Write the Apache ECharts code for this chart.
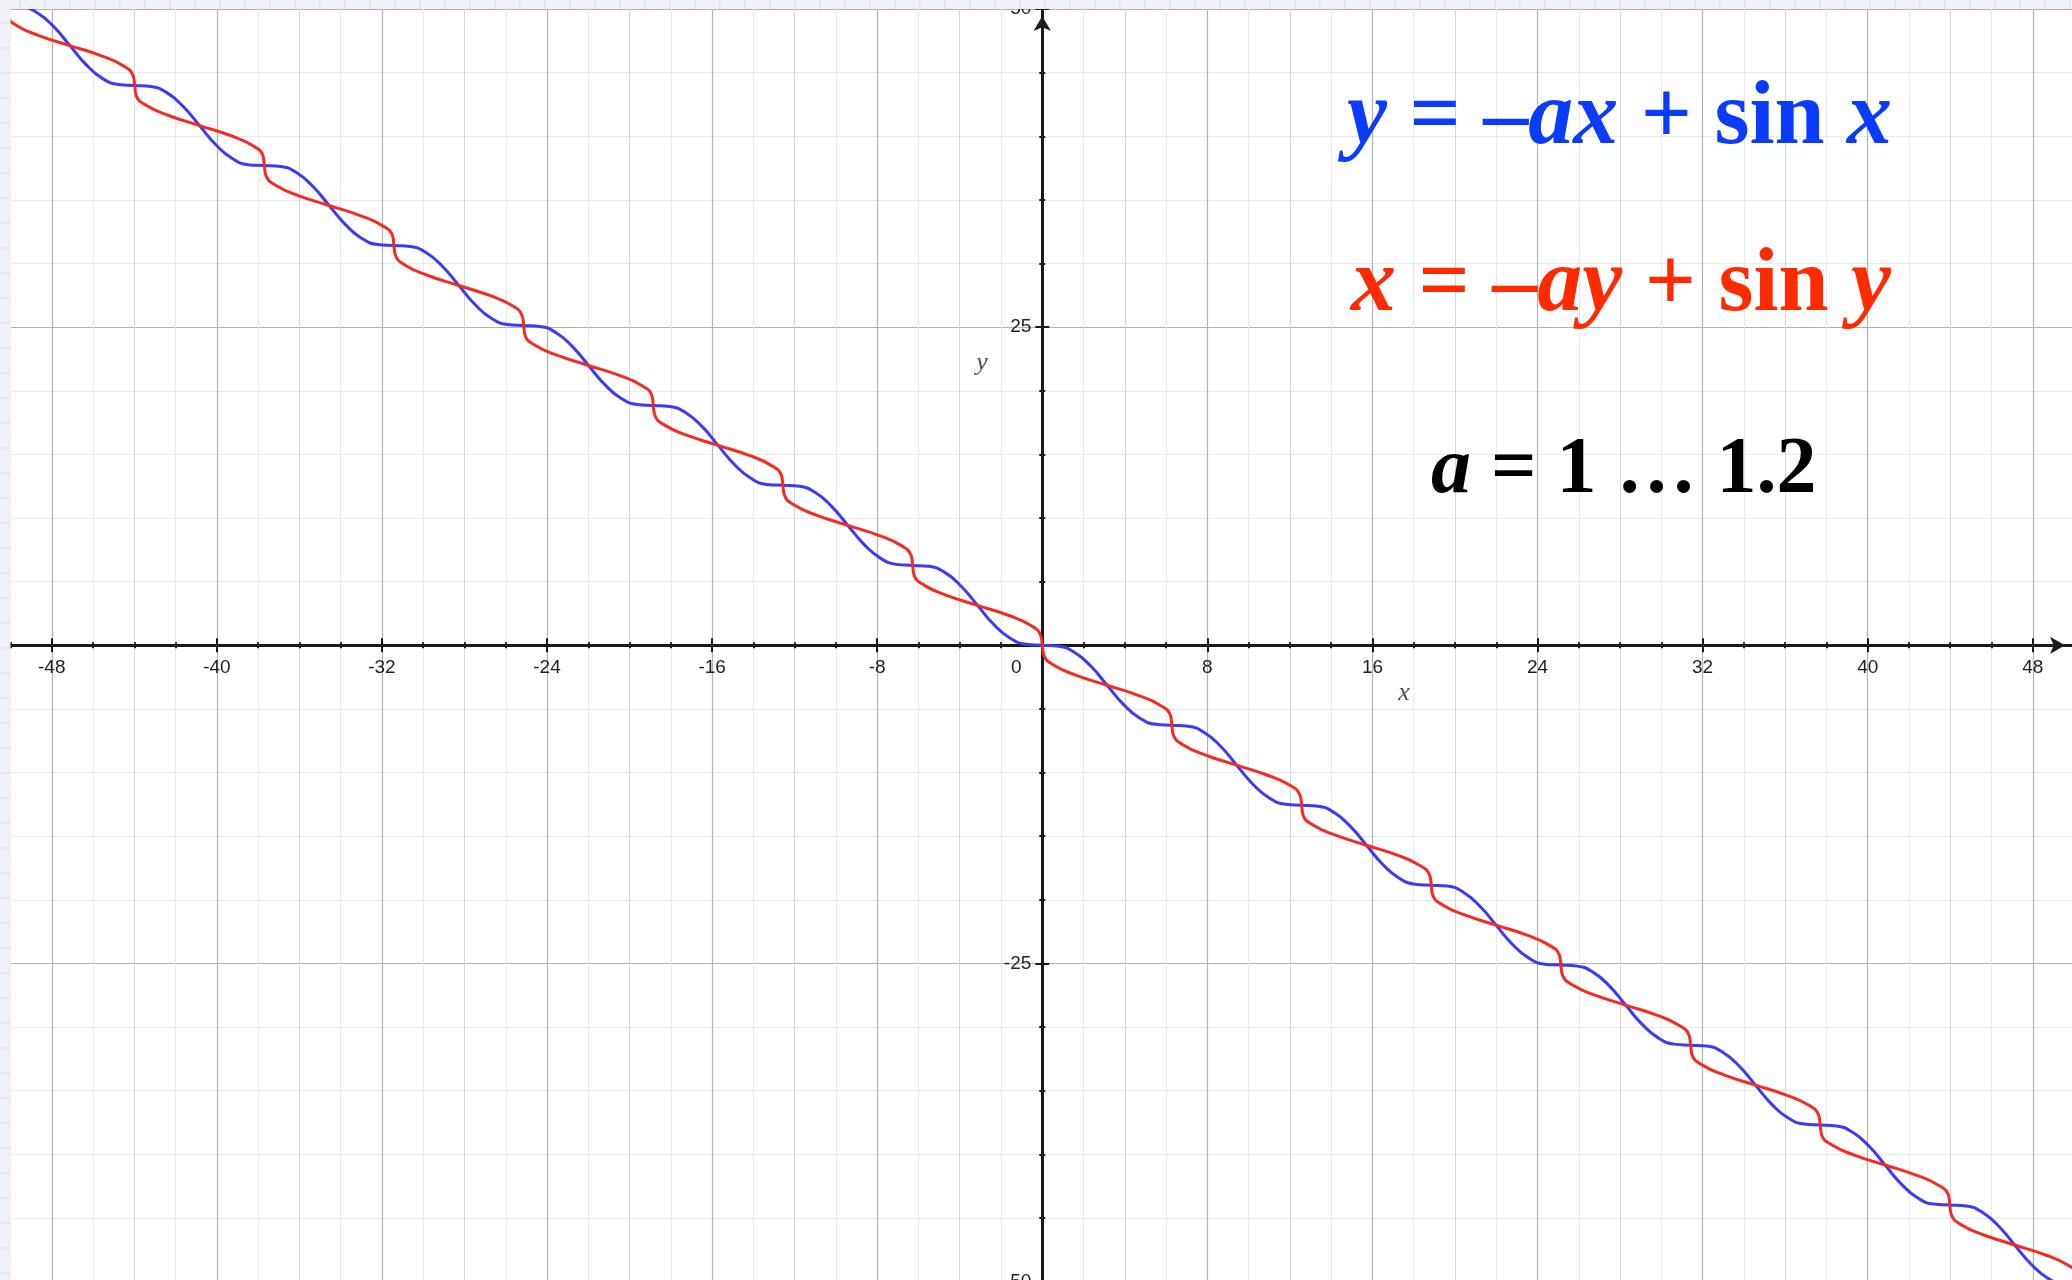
<!DOCTYPE html>
<html>
<head>
<meta charset="utf-8">
<title>y = -ax + sin x</title>
<script src="https://cdn.jsdelivr.net/npm/echarts@6/dist/echarts.min.js"></script>
<style>
  html, body { margin: 0; padding: 0; background: #ffffff; }
  #chart { width: 2072px; height: 1280px; }
</style>
</head>
<body>
<div id="chart"></div>
<script>
// Blue curve: y = -ax + sin x (a = 1), sampled every quarter of pi
const blueX = [-50.27,-49.48,-48.69,-47.91,-47.12,-46.34,-45.55,-44.77,-43.98,-43.20,-42.41,-41.63,-40.84,-40.06,-39.27,-38.48,-37.70,-36.91,-36.13,-35.34,-34.56,-33.77,-32.99,-32.20,-31.42,-30.63,-29.85,-29.06,-28.27,-27.49,-26.70,-25.92,-25.13,-24.35,-23.56,-22.78,-21.99,-21.21,-20.42,-19.63,-18.85,-18.06,-17.28,-16.49,-15.71,-14.92,-14.14,-13.35,-12.57,-11.78,-11.00,-10.21,-9.42,-8.64,-7.85,-7.07,-6.28,-5.50,-4.71,-3.93,-3.14,-2.36,-1.57,-0.79,0,0.79,1.57,2.36,3.14,3.93,4.71,5.50,6.28,7.07,7.85,8.64,9.42,10.21,11.00,11.78,12.57,13.35,14.14,14.92,15.71,16.49,17.28,18.06,18.85,19.63,20.42,21.21,21.99,22.78,23.56,24.35,25.13,25.92,26.70,27.49,28.27,29.06,29.85,30.63,31.42,32.20,32.99,33.77,34.56,35.34,36.13,36.91,37.70,38.48,39.27,40.06,40.84,41.63,42.41,43.20,43.98,44.77,45.55,46.34,47.12,47.91,48.69,49.48,50.27];
const blueY = [50.27,50.19,49.69,48.62,47.12,45.63,44.55,44.06,43.98,43.91,43.41,42.34,40.84,39.35,38.27,37.77,37.70,37.62,37.13,36.05,34.56,33.06,31.99,31.49,31.42,31.34,30.85,29.77,28.27,26.78,25.70,25.21,25.13,25.06,24.56,23.49,21.99,20.50,19.42,18.92,18.85,18.77,18.28,17.20,15.71,14.21,13.14,12.64,12.57,12.49,12.00,10.92,9.42,7.93,6.85,6.36,6.28,6.21,5.71,4.64,3.14,1.65,0.57,0.08,0,-0.08,-0.57,-1.65,-3.14,-4.64,-5.71,-6.21,-6.28,-6.36,-6.85,-7.93,-9.42,-10.92,-12.00,-12.49,-12.57,-12.64,-13.14,-14.21,-15.71,-17.20,-18.28,-18.77,-18.85,-18.92,-19.42,-20.50,-21.99,-23.49,-24.56,-25.06,-25.13,-25.21,-25.70,-26.78,-28.27,-29.77,-30.85,-31.34,-31.42,-31.49,-31.99,-33.06,-34.56,-36.05,-37.13,-37.62,-37.70,-37.77,-38.27,-39.35,-40.84,-42.34,-43.41,-43.91,-43.98,-44.06,-44.55,-45.63,-47.12,-48.62,-49.69,-50.19,-50.27];

// Red curve: x = -ay + sin y (a = 1), sampled every quarter of pi in y
const redX = [50.27,50.19,49.69,48.62,47.12,45.63,44.55,44.06,43.98,43.91,43.41,42.34,40.84,39.35,38.27,37.77,37.70,37.62,37.13,36.05,34.56,33.06,31.99,31.49,31.42,31.34,30.85,29.77,28.27,26.78,25.70,25.21,25.13,25.06,24.56,23.49,21.99,20.50,19.42,18.92,18.85,18.77,18.28,17.20,15.71,14.21,13.14,12.64,12.57,12.49,12.00,10.92,9.42,7.93,6.85,6.36,6.28,6.21,5.71,4.64,3.14,1.65,0.57,0.08,0,-0.08,-0.57,-1.65,-3.14,-4.64,-5.71,-6.21,-6.28,-6.36,-6.85,-7.93,-9.42,-10.92,-12.00,-12.49,-12.57,-12.64,-13.14,-14.21,-15.71,-17.20,-18.28,-18.77,-18.85,-18.92,-19.42,-20.50,-21.99,-23.49,-24.56,-25.06,-25.13,-25.21,-25.70,-26.78,-28.27,-29.77,-30.85,-31.34,-31.42,-31.49,-31.99,-33.06,-34.56,-36.05,-37.13,-37.62,-37.70,-37.77,-38.27,-39.35,-40.84,-42.34,-43.41,-43.91,-43.98,-44.06,-44.55,-45.63,-47.12,-48.62,-49.69,-50.19,-50.27];
const redY = [-50.27,-49.48,-48.69,-47.91,-47.12,-46.34,-45.55,-44.77,-43.98,-43.20,-42.41,-41.63,-40.84,-40.06,-39.27,-38.48,-37.70,-36.91,-36.13,-35.34,-34.56,-33.77,-32.99,-32.20,-31.42,-30.63,-29.85,-29.06,-28.27,-27.49,-26.70,-25.92,-25.13,-24.35,-23.56,-22.78,-21.99,-21.21,-20.42,-19.63,-18.85,-18.06,-17.28,-16.49,-15.71,-14.92,-14.14,-13.35,-12.57,-11.78,-11.00,-10.21,-9.42,-8.64,-7.85,-7.07,-6.28,-5.50,-4.71,-3.93,-3.14,-2.36,-1.57,-0.79,0,0.79,1.57,2.36,3.14,3.93,4.71,5.50,6.28,7.07,7.85,8.64,9.42,10.21,11.00,11.78,12.57,13.35,14.14,14.92,15.71,16.49,17.28,18.06,18.85,19.63,20.42,21.21,21.99,22.78,23.56,24.35,25.13,25.92,26.70,27.49,28.27,29.06,29.85,30.63,31.42,32.20,32.99,33.77,34.56,35.34,36.13,36.91,37.70,38.48,39.27,40.06,40.84,41.63,42.41,43.20,43.98,44.77,45.55,46.34,47.12,47.91,48.69,49.48,50.27];

// Axis ticks, grid lines and labels
const xMinorTicks = [-50,-48,-46,-44,-42,-40,-38,-36,-34,-32,-30,-28,-26,-24,-22,-20,-18,-16,-14,-12,-10,-8,-6,-4,-2,0,2,4,6,8,10,12,14,16,18,20,22,24,26,28,30,32,34,36,38,40,42,44,46,48];
const xMidLines = [-48,-44,-40,-36,-32,-28,-24,-20,-16,-12,-8,-4,0,4,8,12,16,20,24,28,32,36,40,44,48];
const xMajorTicks = [-48,-40,-32,-24,-16,-8,0,8,16,24,32,40,48];
const yMinorTicks = [-50,-45,-40,-35,-30,-25,-20,-15,-10,-5,0,5,10,15,20,25,30,35,40,45,50];
const yMajorTicks = [-50,-25,0,25,50];
const yLabelValues = [-50,-25,25,50];

const X_MIN = -50, X_MAX = 49.9, Y_MIN = -50, Y_MAX = 50;
const GRID_LEFT = 10.5, GRID_TOP = 9, GRID_W = 2061.5, GRID_H = 1272.6;
const AXIS_COLOR = '#1a1a1a';
const LABEL_COLOR = '#1e1e1e';
const LABEL_FONT = 'Liberation Sans';
const LABEL_SIZE = 19;
const SERIF = 'Liberation Serif';

// distance from the grid's bottom / left edge to the zero lines, used to place the label axes
const X_LABEL_OFFSET = -GRID_H * (0 - Y_MIN) / (Y_MAX - Y_MIN);
const Y_LABEL_OFFSET = -GRID_W * (0 - X_MIN) / (X_MAX - X_MIN);

const pair = (xs, ys) => xs.map((x, i) => [x, ys[i]]);

function xAxisLayer(position, opts) {
  return Object.assign({
    type: 'value', min: X_MIN, max: X_MAX, position: position,
    axisLine: { show: false, onZero: true, onZeroAxisIndex: 0 },
    axisTick: { show: false },
    axisLabel: { show: false },
    splitLine: { show: false }
  }, opts);
}
function yAxisLayer(position, opts) {
  return Object.assign({
    type: 'value', min: Y_MIN, max: Y_MAX, position: position,
    axisLine: { show: false, onZero: true, onZeroAxisIndex: 0 },
    axisTick: { show: false },
    axisLabel: { show: false },
    splitLine: { show: false }
  }, opts);
}

const xAxes = [
  // main axis: line with arrow, minor ticks (downwards), light grid every 2
  xAxisLayer('bottom', {
    axisLine: { show: true, onZero: true, onZeroAxisIndex: 0,
      symbol: ['none', 'arrow'], symbolSize: [13, 15], symbolOffset: [0, -7],
      lineStyle: { color: AXIS_COLOR, width: 3 } },
    axisTick: { show: true, customValues: xMinorTicks, length: 3, lineStyle: { color: AXIS_COLOR, width: 2 } },
    splitLine: { show: true, lineStyle: { color: '#eaeaea', width: 1 } }
  }),
  // minor ticks upwards
  xAxisLayer('top', {
    axisTick: { show: true, customValues: xMinorTicks, length: 3, lineStyle: { color: AXIS_COLOR, width: 2 } }
  }),
  // grid lines every 4
  xAxisLayer('bottom', {
    axisTick: { show: false, customValues: xMidLines },
    splitLine: { show: true, lineStyle: { color: '#d6d6d6', width: 1 } }
  }),
  // major ticks downwards + grid lines every 8
  xAxisLayer('bottom', {
    axisTick: { show: true, customValues: xMajorTicks, length: 7, lineStyle: { color: AXIS_COLOR, width: 2 } },
    splitLine: { show: true, lineStyle: { color: '#b2b2b2', width: 1.2 } }
  }),
  // major ticks upwards
  xAxisLayer('top', {
    axisTick: { show: true, customValues: xMajorTicks, length: 7, lineStyle: { color: AXIS_COLOR, width: 2 } }
  }),
  // tick labels, placed on the zero line
  xAxisLayer('bottom', {
    axisLine: { show: false, onZero: false },
    offset: X_LABEL_OFFSET,
    axisTick: { show: false, customValues: xMajorTicks },
    axisLabel: { show: true, customValues: xMajorTicks, margin: 13,
      fontFamily: LABEL_FONT, fontSize: LABEL_SIZE, color: LABEL_COLOR,
      formatter: v => v === 0 ? '{z|0}' : String(v),
      rich: { z: { fontFamily: LABEL_FONT, fontSize: LABEL_SIZE, color: LABEL_COLOR, padding: [0, 52, 0, 0] } } }
  })
];

const yAxes = [
  yAxisLayer('left', {
    axisLine: { show: true, onZero: true, onZeroAxisIndex: 0,
      symbol: ['none', 'arrow'], symbolSize: [13, 15], symbolOffset: [0, -7],
      lineStyle: { color: AXIS_COLOR, width: 3 } },
    axisTick: { show: true, customValues: yMinorTicks, length: 3, lineStyle: { color: AXIS_COLOR, width: 2 } },
    splitLine: { show: true, lineStyle: { color: '#eaeaea', width: 1 } }
  }),
  yAxisLayer('right', {
    axisTick: { show: true, customValues: yMinorTicks, length: 3, lineStyle: { color: AXIS_COLOR, width: 2 } }
  }),
  yAxisLayer('left', {
    axisTick: { show: true, customValues: yMajorTicks, length: 7, lineStyle: { color: AXIS_COLOR, width: 2 } },
    splitLine: { show: true, lineStyle: { color: '#b2b2b2', width: 1.2 } }
  }),
  yAxisLayer('right', {
    axisTick: { show: true, customValues: yMajorTicks, length: 7, lineStyle: { color: AXIS_COLOR, width: 2 } }
  }),
  // tick labels, placed on the zero line
  yAxisLayer('left', {
    axisLine: { show: false, onZero: false },
    offset: Y_LABEL_OFFSET,
    axisTick: { show: false, customValues: yLabelValues },
    axisLabel: { show: true, customValues: yLabelValues, margin: 11,
      fontFamily: LABEL_FONT, fontSize: LABEL_SIZE, color: LABEL_COLOR }
  })
];

// light page margin strips along the top and left edges
const marginGraphics = [
  { type: 'rect', z: 100, shape: { x: 0, y: 0, width: 2072, height: 9 }, style: { fill: '#eef2f6' } },
  { type: 'rect', z: 100, shape: { x: 0, y: 0, width: 10.5, height: 1280 }, style: { fill: '#eef2f6' } }
];
for (let px = 20; px < 2072; px += 25) {
  marginGraphics.push({ type: 'line', z: 101, shape: { x1: px, y1: 0, x2: px, y2: 9 }, style: { stroke: '#d3dee9', lineWidth: 1 } });
}
for (let py = 23; py < 1280; py += 25) {
  marginGraphics.push({ type: 'line', z: 101, shape: { x1: 0, y1: py, x2: 10.5, y2: py }, style: { stroke: '#d3dee9', lineWidth: 1 } });
}

function formulaText(x, y, text, color, size) {
  return {
    type: 'text', z: 50, x: x, y: y,
    style: {
      text: text, fill: color,
      fontFamily: SERIF, fontSize: size, fontWeight: 'bold',
      align: 'left', verticalAlign: 'middle',
      rich: {
        i: { fontFamily: SERIF, fontSize: size, fontWeight: 'bold', fontStyle: 'italic', fill: color }
      }
    }
  };
}

const chart = echarts.init(document.getElementById('chart'), null, { renderer: 'canvas' });
chart.setOption({
  animation: false,
  backgroundColor: '#ffffff',
  grid: { left: GRID_LEFT, top: GRID_TOP, width: GRID_W, height: GRID_H,
          containLabel: false, outerBoundsMode: 'none' },
  xAxis: xAxes,
  yAxis: yAxes,
  series: [
    {
      name: 'y = -ax + sin x', type: 'line', xAxisIndex: 0, yAxisIndex: 0,
      data: pair(blueX, blueY), smooth: 0.5, showSymbol: false, symbol: 'none',
      lineStyle: { color: '#3a3af8', width: 3 }, z: 5
    },
    {
      name: 'x = -ay + sin y', type: 'line', xAxisIndex: 0, yAxisIndex: 0,
      data: pair(redX, redY), smooth: 0.5, showSymbol: false, symbol: 'none',
      lineStyle: { color: '#f52a22', width: 3 }, z: 6
    }
  ],
  graphic: [
    formulaText(1347, 120, '{i|y} = \u2013{i|ax} + sin {i|x}', '#0a3cff', 90),
    formulaText(1351, 287, '{i|x} = \u2013{i|ay} + sin {i|y}', '#ff2a00', 90),
    formulaText(1431, 471, '{i|a} = 1 \u2026 1.2', '#000000', 80),
    { type: 'text', z: 50, x: 982, y: 363,
      style: { text: 'y', fontFamily: SERIF, fontStyle: 'italic', fontSize: 26, fill: '#505050', align: 'center', verticalAlign: 'middle' } },
    { type: 'text', z: 50, x: 1404, y: 693,
      style: { text: 'x', fontFamily: SERIF, fontStyle: 'italic', fontSize: 26, fill: '#505050', align: 'center', verticalAlign: 'middle' } }
  ].concat(marginGraphics)
});
</script>
</body>
</html>
